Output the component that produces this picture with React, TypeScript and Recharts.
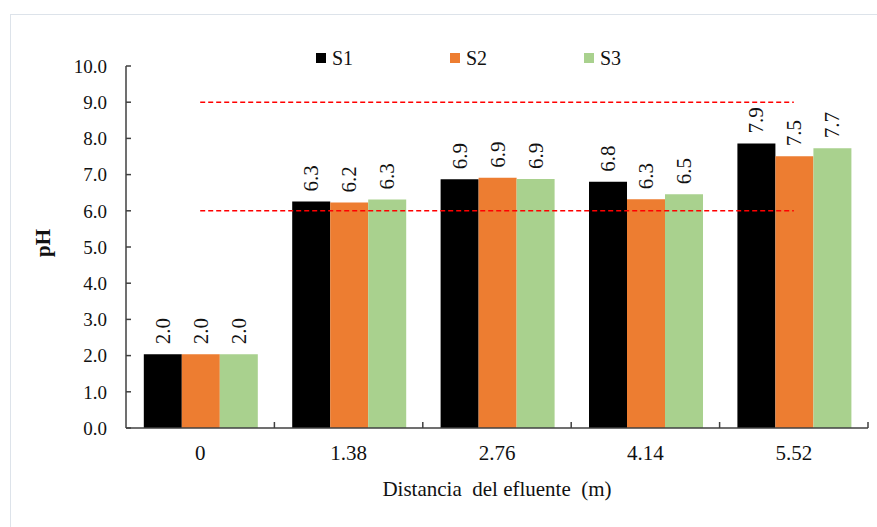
import React from "react";
import {
  ComposedChart,
  Bar,
  Line,
  XAxis,
  YAxis,
  Legend,
  LabelList,
  Label,
} from "recharts";

/* ── Data ── */
const distances = ["0", "1.38", "2.76", "4.14", "5.52"];
const s1 = [2.04, 6.26, 6.87, 6.8, 7.86];
const s2 = [2.04, 6.23, 6.91, 6.32, 7.51];
const s3 = [2.04, 6.31, 6.88, 6.46, 7.73];
const limitMax = [9, 9, 9, 9, 9];
const limitMin = [6, 6, 6, 6, 6];
const yTicks = [0, 1, 2, 3, 4, 5, 6, 7, 8, 9, 10];

const series = [
  { key: "S1", color: "#000000" },
  { key: "S2", color: "#ED7D31" },
  { key: "S3", color: "#A9D18E" },
];

const data = distances.map((d, i) => ({
  dist: d,
  S1: s1[i],
  S2: s2[i],
  S3: s3[i],
  max: limitMax[i],
  min: limitMin[i],
}));

const FONT = '"Liberation Serif", "Times New Roman", serif';
const AXIS = "#404040";
const X_TICK_SIZE = 6;
const X_TICK_MARGIN = 11;

// category label + inward tick mark on the right edge of each band (Excel style)
function CategoryTick(props: any) {
  const { x, y, payload } = props;
  const axisY = Number(y) - X_TICK_SIZE - X_TICK_MARGIN;
  const edge = Number(x) + Number(payload?.offset ?? 0);
  return (
    <g>
      <line
        x1={edge}
        x2={edge}
        y1={axisY}
        y2={axisY - 6}
        stroke={AXIS}
        strokeWidth={1.5}
      />
      <text
        x={x}
        y={y}
        dy="0.71em"
        textAnchor="middle"
        fontSize={21}
        fill="#111"
        fontFamily={FONT}
      >
        {payload?.value}
      </text>
    </g>
  );
}

function VerticalLabel(props: any) {
  const { x, y, width, value } = props;
  const cx = Number(x) + Number(width) / 2;
  const top = Number(y) - 10;
  return (
    <text
      x={0}
      y={0}
      transform={`translate(${cx}, ${top}) rotate(-90)`}
      textAnchor="start"
      dominantBaseline="central"
      fontSize={21}
      fill="#111"
      fontFamily={FONT}
    >
      {Number(value).toFixed(1)}
    </text>
  );
}

function PhLabel(props: any) {
  const vb = props.viewBox || {};
  const x = vb.x + 33;
  const y = vb.y + vb.height / 2 - 4;
  return (
    <text
      x={0}
      y={0}
      transform={`translate(${x}, ${y}) rotate(-90)`}
      textAnchor="middle"
      dominantBaseline="central"
      fontSize={21}
      fontWeight="bold"
      fill="#111"
      fontFamily={FONT}
    >
      pH
    </text>
  );
}

function LegendRow() {
  return (
    <div
      style={{
        display: "flex",
        paddingLeft: 316,
        paddingTop: 12,
        height: 30,
        boxSizing: "border-box",
        fontFamily: FONT,
      }}
    >
      {series.map((s) => (
        <div
          key={s.key}
          style={{ width: 134, height: 20, display: "flex", alignItems: "center" }}
        >
          <span
            style={{ width: 10, height: 10, background: s.color, marginRight: 6 }}
          />
          <span style={{ fontSize: 20, lineHeight: "20px", color: "#111" }}>
            {s.key}
          </span>
        </div>
      ))}
    </div>
  );
}

export default function App() {
  return (
    <div
      style={{
        position: "absolute",
        left: 0,
        top: 0,
        width: 877,
        height: 527,
        background: "#fff",
        fontFamily: FONT,
      }}
    >
      {/* frame */}
      <div
        style={{
          position: "absolute",
          left: 10,
          top: 14,
          right: 0,
          bottom: 0,
          borderTop: "1px solid #dde3ea",
          borderLeft: "1px solid #dde3ea",
        }}
      />
      <div style={{ position: "absolute", left: 0, top: 0 }}>
        <ComposedChart
          width={877}
          height={527}
          data={data}
          margin={{ top: 36, right: 9, bottom: 24, left: 10 }}
          barCategoryGap="12%"
          barGap={0}
        >
          <XAxis
            dataKey="dist"
            interval={0}
            tickLine={false}
            tickSize={X_TICK_SIZE}
            tickMargin={X_TICK_MARGIN}
            axisLine={{ stroke: AXIS, strokeWidth: 1.5 }}
            tick={CategoryTick}
            height={75}
          >
            <Label
              value={"Distancia\u00A0 del efluente\u00A0 (m)"}
              position="insideBottom"
              offset={7}
              fontSize={21}
              fill="#111"
            />
          </XAxis>
          <YAxis
            domain={[0, 10]}
            ticks={yTicks}
            tickFormatter={(v: number) => v.toFixed(1)}
            width={116}
            axisLine={{ stroke: AXIS, strokeWidth: 1.5 }}
            tickLine={{ stroke: AXIS, strokeWidth: 1.5 }}
            tickSize={-5}
            tickMargin={24}
            tick={{ fontSize: 19, fill: "#111" }}
          >
            <Label content={PhLabel} />
          </YAxis>
          <Legend
            verticalAlign="top"
            content={LegendRow}
            wrapperStyle={{ left: 0, width: 877, height: 30 }}
          />
          {series.map((s) => (
            <Bar
              key={s.key}
              dataKey={s.key}
              fill={s.color}
              isAnimationActive={false}
            >
              <LabelList dataKey={s.key} content={VerticalLabel} />
            </Bar>
          ))}
          <Line
            dataKey="max"
            stroke="#FF0000"
            strokeWidth={1.5}
            strokeDasharray="5 3"
            dot={false}
            activeDot={false}
            legendType="none"
            isAnimationActive={false}
          />
          <Line
            dataKey="min"
            stroke="#FF0000"
            strokeWidth={1.5}
            strokeDasharray="5 3"
            dot={false}
            activeDot={false}
            legendType="none"
            isAnimationActive={false}
          />
        </ComposedChart>
      </div>
    </div>
  );
}
